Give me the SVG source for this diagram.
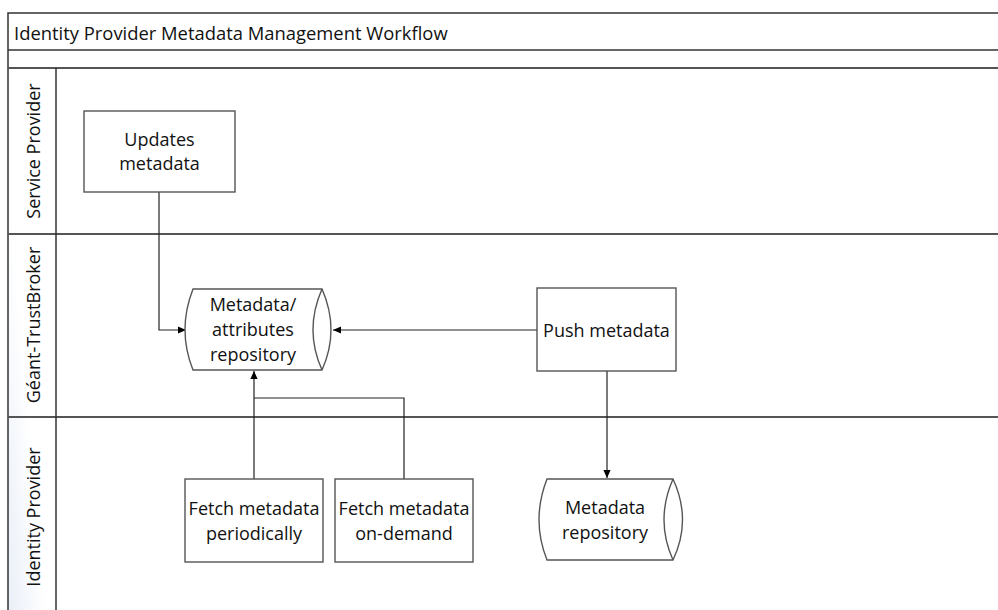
<svg xmlns="http://www.w3.org/2000/svg" width="998" height="610" viewBox="0 0 998 610">
<defs>
<style>
.t{font-family:"Open Sans","Liberation Sans",sans-serif;font-size:18px;fill:#111;text-anchor:middle;dominant-baseline:central}
.frame{stroke:#333;stroke-width:1.5;fill:none}
.lane{stroke:#555;stroke-width:2;fill:none}
.box{fill:#fff;stroke:#555;stroke-width:1.4}
.edge{fill:none;stroke:#222;stroke-width:1.2}
</style>
<marker id="ah" viewBox="0 0 10 10" refX="10" refY="5" markerWidth="8" markerHeight="8" markerUnits="userSpaceOnUse" orient="auto">
<path d="M0,0.5 L10,5 L0,9.5 z" fill="#000"/>
</marker>
<linearGradient id="hg" x1="0" y1="1" x2="1" y2="0">
<stop offset="0" stop-color="#e9eff8"/>
<stop offset="0.4" stop-color="#fff"/>
</linearGradient>
</defs>
<rect width="998" height="610" fill="#fff"/>
<g id="pool">
<rect x="8" y="68" width="48" height="542" fill="url(#hg)"/>
<path class="frame" d="M8,610 V13 H998"/>
<line class="frame" x1="8" y1="50" x2="998" y2="50"/>
<line class="lane" x1="8" y1="68" x2="998" y2="68"/>
<line class="lane" x1="8" y1="234" x2="998" y2="234"/>
<line class="lane" x1="8" y1="417" x2="998" y2="417"/>
<line class="frame" x1="56" y1="68" x2="56" y2="610" stroke="#555"/>
<text class="t" x="14" y="32" style="text-anchor:start;font-size:18.4px">Identity Provider Metadata Management Workflow</text>
<text class="t" transform="translate(33,151) rotate(-90)">Service Provider</text>
<text class="t" transform="translate(33,325) rotate(-90)">Géant-TrustBroker</text>
<text class="t" transform="translate(33,517) rotate(-90)">Identity Provider</text>
</g>
<g id="connectors">
<path class="edge" d="M159,192 V330 H186" marker-end="url(#ah)"/>
<path class="edge" d="M537,330 H333" marker-end="url(#ah)"/>
<path class="edge" d="M607,371 V478" marker-end="url(#ah)"/>
<path class="edge" d="M254,479 V371" marker-end="url(#ah)"/>
<path class="edge" d="M404,479 V398 H254"/>
</g>
<g id="updates">
<rect class="box" x="84" y="111" width="151" height="81"/>
<text class="t" x="159.5" y="139">Updates</text>
<text class="t" x="159.5" y="163">metadata</text>
</g>
<g id="attrrepo">
<path class="box" d="M193,289 H322 Q340,330 322,370 H193 Q177,330 193,289 z"/>
<path class="box" d="M322,289 Q304,330 322,370" fill="none"/>
<text class="t" x="253" y="304">Metadata/</text>
<text class="t" x="253" y="329">attributes</text>
<text class="t" x="253" y="354">repository</text>
</g>
<g id="push">
<rect class="box" x="537" y="288" width="139" height="83"/>
<text class="t" x="606.5" y="330">Push metadata</text>
</g>
<g id="mdrepo">
<path class="box" d="M547,479 H673 Q692,520 673,560 H547 Q531,520 547,479 z"/>
<path class="box" d="M673,479 Q655,520 673,560" fill="none"/>
<text class="t" x="605" y="507">Metadata</text>
<text class="t" x="605" y="532">repository</text>
</g>
<g id="periodic">
<rect class="box" x="185" y="479" width="138" height="83"/>
<text class="t" x="254" y="508">Fetch metadata</text>
<text class="t" x="254" y="533">periodically</text>
</g>
<g id="ondemand">
<rect class="box" x="335" y="479" width="138" height="83"/>
<text class="t" x="404" y="508">Fetch metadata</text>
<text class="t" x="404" y="533">on-demand</text>
</g>
</svg>
